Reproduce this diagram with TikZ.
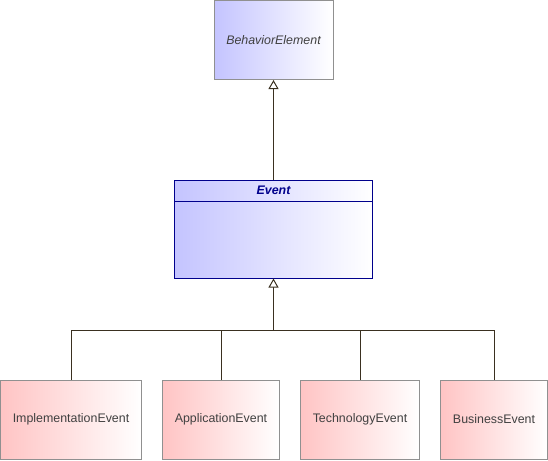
\documentclass[tikz,border=0pt]{standalone}
\usepackage{fontspec}
\setmainfont{Liberation Sans}
\usetikzlibrary{arrows.meta}

\definecolor{bluefill}{HTML}{C4C4FF}
\definecolor{pinkfill}{HTML}{FFC4C4}
\definecolor{boxline}{HTML}{909090}
\definecolor{eventline}{HTML}{00008C}
\definecolor{linkline}{HTML}{3A3020}
\definecolor{labeltext}{HTML}{404040}

\tikzset{
  element/.style={draw=boxline, line width=1pt, inner sep=0pt, shading=axis, right color=white,
    font=\fontsize{12.4}{14}\selectfont, text=labeltext},
  abstractbox/.style={element, left color=bluefill, minimum width=119pt, minimum height=79pt},
  eventbox/.style={element, draw=eventline, left color=bluefill, minimum width=198pt, minimum height=98pt},
  childbox/.style={element, left color=pinkfill, minimum height=79pt},
  generalizes/.style={draw=linkline, line width=1pt, -{Triangle[open, width=10pt, length=9pt, fill=white]}},
  branch/.style={draw=linkline, line width=1pt}
}

\begin{document}
\begin{tikzpicture}[x=1pt, y=-1pt]
  \useasboundingbox (0,0) rectangle (548,460);
  \node[abstractbox] (behavior) at (273.5,40) {\itshape BehaviorElement};
  \node[eventbox] (event) at (273.5,229) {};
  \node[font=\fontsize{12.4}{14}\selectfont\bfseries\itshape, text=eventline] (eventname) at (273.5,190.5) {Event};
  \draw[eventline, line width=1pt] (174.5,201) -- (372.5,201);
  \node[childbox, minimum width=141pt] (impl) at (71,419.5) {ImplementationEvent};
  \node[childbox, minimum width=117pt] (app) at (221,419.5) {ApplicationEvent};
  \node[childbox, minimum width=119pt] (tech) at (360,419.5) {TechnologyEvent};
  \node[childbox, minimum width=107pt] (business) at (494,419.5) {BusinessEvent};
  \coordinate (join) at (273.5,330);
  \draw[generalizes] (event.north) -- (behavior.south);
  \draw[branch] (impl.north) |- (join);
  \draw[branch] (app.north) |- (join);
  \draw[branch] (tech.north) |- (join);
  \draw[branch] (business.north) |- (join);
  \draw[generalizes] (join) -- (event.south);
\end{tikzpicture}
\end{document}
